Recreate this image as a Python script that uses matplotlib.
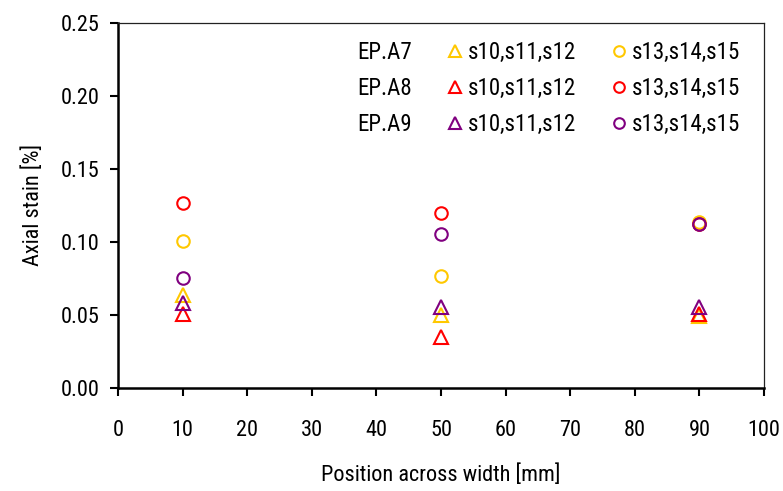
import matplotlib
matplotlib.use("Agg")
import matplotlib.pyplot as plt
from matplotlib.lines import Line2D

plt.rcParams['font.family'] = ['Roboto Condensed', 'DejaVu Sans']

positions = [10, 50, 90]
specimens = ["EP.A7", "EP.A8", "EP.A9"]
colors = ["#FFC800", "#FF0000", "#800080"]
tri_label = "s10,s11,s12"
circ_label = "s13,s14,s15"
# triangles: s10,s11,s12
tri_values = {
    "EP.A7": [0.0635, 0.0499, 0.0490],
    "EP.A8": [0.0510, 0.0350, 0.0505],
    "EP.A9": [0.0583, 0.0555, 0.0555],
}
# circles: s13,s14,s15
circ_values = {
    "EP.A7": [0.1010, 0.0767, 0.1136],
    "EP.A8": [0.1270, 0.1200, 0.1122],
    "EP.A9": [0.0753, 0.1056, 0.1120],
}
xticks = list(range(0, 101, 10))
yticks = [0.00, 0.05, 0.10, 0.15, 0.20, 0.25]

fig = plt.figure(figsize=(7.83, 4.91), dpi=100)
ax = fig.add_axes([118/783, 1-388/491, (764-118)/783, (388-23)/491])

tri_handles, circ_handles = [], []
for sp, c in zip(specimens, colors):
    h1, = ax.plot(positions, tri_values[sp], linestyle='none', marker='^', ms=10,
                  mfc='none', mec=c, mew=1.5, clip_on=False)
    tri_handles.append(h1)
for sp, c in zip(specimens, colors):
    h2, = ax.plot(positions, circ_values[sp], linestyle='none', marker='o', ms=9,
                  mfc='none', mec=c, mew=1.5, clip_on=False)
    circ_handles.append(h2)

ax.set_xlim(0, 100)
ax.set_ylim(0, 0.25)
ax.set_xticks(xticks)
ax.set_xticklabels([str(t) for t in xticks])
ax.set_yticks(yticks)
ax.set_yticklabels([f"{t:.2f}" for t in yticks])
ax.tick_params(axis='both', direction='out', labelsize=16, colors='black', width=1.5, length=6)
ax.tick_params(axis='y', pad=7)
ax.tick_params(axis='x', pad=17)
for s in ['left', 'bottom']:
    ax.spines[s].set_linewidth(1.8)
    ax.spines[s].set_color('black')
for s in ['top', 'right']:
    ax.spines[s].set_linewidth(0.9)
    ax.spines[s].set_color('#222222')

ax.set_xlabel("Position across width [mm]", fontsize=16, labelpad=17)
ax.set_ylabel("Axial stain [%]", fontsize=16, labelpad=12)

blank = [Line2D([], [], linestyle='none') for _ in specimens]
handles = blank + tri_handles + circ_handles
labels = specimens + [tri_label]*3 + [circ_label]*3
leg = ax.legend(handles, labels, ncol=3, frameon=False, fontsize=16.5,
                loc='upper right', bbox_to_anchor=((740-118)/646, (388-41)/365),
                handlelength=0.6, handletextpad=0.27, columnspacing=1.57,
                labelspacing=0.57, borderaxespad=0, borderpad=0, markerscale=0.85)

fig.savefig("out.png", dpi=100)
